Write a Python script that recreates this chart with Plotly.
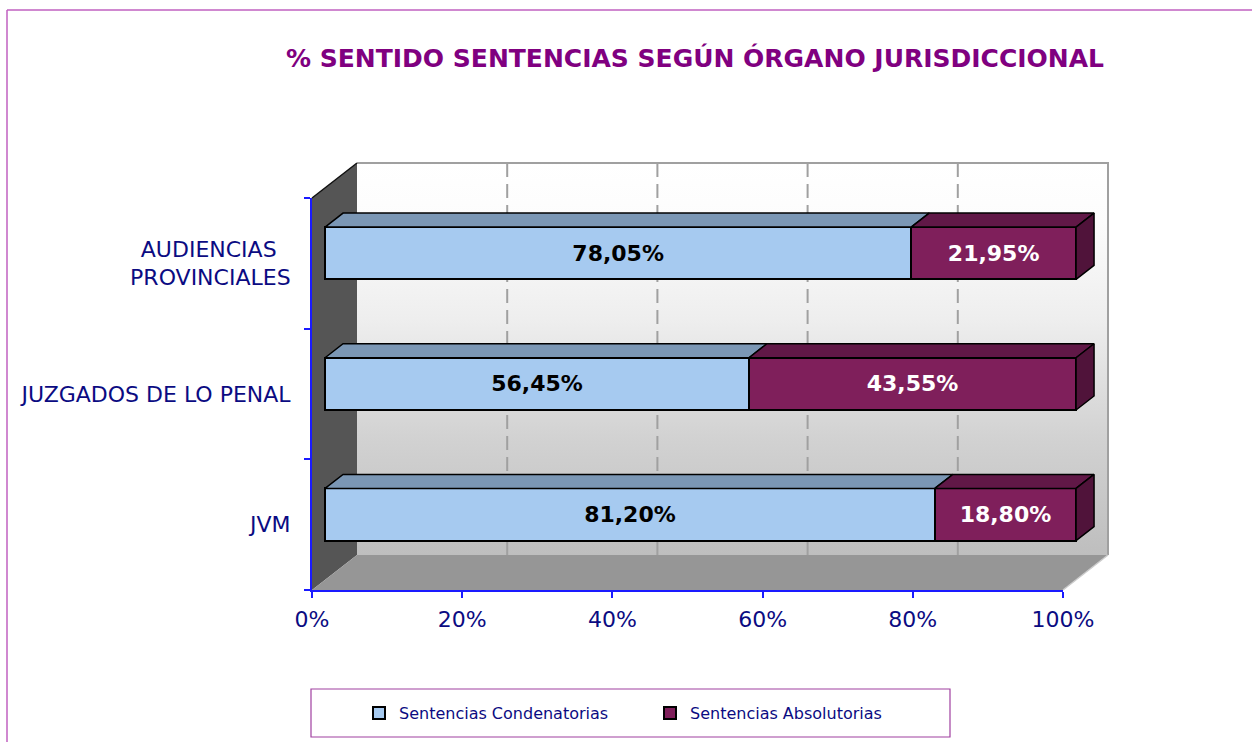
import plotly.graph_objects as go

# ---------------- data ----------------
categories = ["JVM", "JUZGADOS DE LO PENAL", "AUDIENCIAS\u00a0\u00a0<br>PROVINCIALES"]
condenatorias = [81.20, 56.45, 78.05]
absolutorias = [18.80, 43.55, 21.95]
series_names = ["Sentencias Condenatorias", "Sentencias Absolutorias"]
x_tick_values = [0, 20, 40, 60, 80, 100]
x_tick_labels = ["0%", "20%", "40%", "60%", "80%", "100%"]
title_text = "% SENTIDO SENTENCIAS SEGÚN ÓRGANO JURISDICCIONAL"

# ---------------- layout geometry (pixels) ----------------
W, H = 1252, 742
FX0, FX1 = 312, 1063          # front plane 0% .. 100%
FY_TOP, FY_BOT = 198, 590     # front plane top / bottom
DX, DY = 45, 35               # depth offset of back wall
D_FRONT, D_BACK = 0.29, 0.69  # bar depth (fraction)
PAD = 6
n = len(categories)
SX = (FX1 - FX0) / 100.0
SY = (FY_BOT - FY_TOP) / n

FONT = "DejaVu Sans, Verdana, sans-serif"
NAVY = "#0b0b82"
BLUE_FRONT, BLUE_TOP = "#a6caf0", "#7b97b5"
PUR_FRONT, PUR_TOP, PUR_SIDE = "#7f1f5b", "#611847", "#50133a"


def px(x):
    return x / W


def py(y):
    return 1 - y / H


fig = go.Figure()

# ---------------- subplot 1 : walls (front-plane units + depth) ----------------
def wp(p, c, d):
    return p + d * DX / SX, c + d * DY / SY


def poly(points):
    xs, ys = [], []
    for p, c, d in points:
        x, y = wp(p, c, d)
        xs.append(x)
        ys.append(y)
    return xs, ys


lo, hi = -0.5, n - 0.5
bx, by = poly([(0, lo, 1), (100, lo, 1), (100, hi, 1), (0, hi, 1), (0, lo, 1)])
fig.add_trace(go.Scatter(x=bx, y=by, fill="toself", mode="lines", line=dict(width=0),
                         fillgradient=dict(type="vertical",
                                           colorscale=[[0, "#bebebe"], [0.3, "#d2d2d2"],
                                                       [0.6, "#eeeeee"], [0.85, "#fcfcfc"],
                                                       [1, "#ffffff"]]),
                         hoverinfo="skip", showlegend=False))
lx, ly = poly([(0, lo, 0), (0, lo, 1), (0, hi, 1), (0, hi, 0), (0, lo, 0)])
fig.add_trace(go.Scatter(x=lx, y=ly, fill="toself", mode="lines", line=dict(width=0),
                         fillcolor="#555555", hoverinfo="skip", showlegend=False))
fx, fy = poly([(0, lo, 0), (100, lo, 0), (100, lo, 1), (0, lo, 1), (0, lo, 0)])
fig.add_trace(go.Scatter(x=fx, y=fy, fill="toself", mode="lines", line=dict(width=0),
                         fillcolor="#969696", hoverinfo="skip", showlegend=False))
gx, gy = [], []
for t in x_tick_values[1:-1]:
    xs, ys = poly([(t, lo, 1), (t, hi, 1)])
    gx += xs + [None]
    gy += ys + [None]
fig.add_trace(go.Scatter(x=gx, y=gy, mode="lines",
                         line=dict(color="#a0a0a0", width=2, dash="14px,7px"),
                         hoverinfo="skip", showlegend=False))
ox, oy = poly([(0, hi, 1), (100, hi, 1), (100, lo, 1)])
fig.add_trace(go.Scatter(x=ox, y=oy, mode="lines", line=dict(color="#a0a0a0", width=2),
                         hoverinfo="skip", showlegend=False))
ex, ey = poly([(100, lo, 0), (100, lo, 1)])
fig.add_trace(go.Scatter(x=ex, y=ey, mode="lines", line=dict(color="#cccccc", width=1.5),
                         hoverinfo="skip", showlegend=False))
tx, ty = poly([(0, hi, 0), (0, hi, 1)])
fig.add_trace(go.Scatter(x=tx, y=ty, mode="lines", line=dict(color="#111111", width=1.5),
                         hoverinfo="skip", showlegend=False))

# ---------------- subplot 2 : front plane axes ----------------
fig.add_trace(go.Scatter(x=[None], y=[None], xaxis="x2", yaxis="y2",
                         hoverinfo="skip", showlegend=False))

# ---------------- subplot 3 : bars ----------------
idx = list(range(n))


def fmt(v):
    return f"{v:.2f}".replace(".", ",") + "%"


BAR_W = 0.4
fig.add_trace(go.Bar(orientation="h", y=idx, x=condenatorias, width=BAR_W,
                     name=series_names[0], xaxis="x3", yaxis="y3",
                     marker=dict(color=BLUE_FRONT, line=dict(color="black", width=2)),
                     text=[fmt(v) for v in condenatorias], textposition="inside",
                     insidetextanchor="middle", constraintext="none",
                     textfont=dict(family=FONT, size=22, color="black", weight="bold"),
                     hoverinfo="skip"))
fig.add_trace(go.Bar(orientation="h", y=idx, x=absolutorias, width=BAR_W,
                     name=series_names[1], xaxis="x3", yaxis="y3",
                     marker=dict(color=PUR_FRONT, line=dict(color="black", width=2)),
                     text=[fmt(v) for v in absolutorias], textposition="inside",
                     insidetextanchor="middle", constraintext="none",
                     textfont=dict(family=FONT, size=22, color="white", weight="bold"),
                     hoverinfo="skip"))

ddx = (D_BACK - D_FRONT) * DX / SX
ddy = (D_BACK - D_FRONT) * DY / SY


def top_faces(starts, ends):
    xs, ys = [], []
    for i, (a, b) in enumerate(zip(starts, ends)):
        yt = idx[i] + BAR_W / 2
        xs += [a, b, b + ddx, a + ddx, a, None]
        ys += [yt, yt, yt + ddy, yt + ddy, yt, None]
    return xs, ys


ends1 = condenatorias
ends2 = [a + b for a, b in zip(condenatorias, absolutorias)]
t1x, t1y = top_faces([0] * n, ends1)
t2x, t2y = top_faces(ends1, ends2)
sx_, sy_ = [], []
for i, e in enumerate(ends2):
    yt, yb = idx[i] + BAR_W / 2, idx[i] - BAR_W / 2
    sx_ += [e, e, e + ddx, e + ddx, e, None]
    sy_ += [yt, yb, yb + ddy, yt + ddy, yt, None]

for xs, ys, col in [(t1x, t1y, BLUE_TOP), (t2x, t2y, PUR_TOP), (sx_, sy_, PUR_SIDE)]:
    fig.add_trace(go.Scatter(x=xs, y=ys, xaxis="x3", yaxis="y3", fill="toself",
                             fillcolor=col, mode="lines",
                             line=dict(color="black", width=1.5),
                             hoverinfo="skip", showlegend=False))

# ---------------- axes ----------------
hidden = dict(visible=False, showgrid=False, zeroline=False, fixedrange=True,
              automargin=False)

wall_x_right = FX1 + DX
fig.update_layout(
    template="none",
    xaxis=dict(hidden, domain=[px(FX0 - PAD), px(wall_x_right + PAD)],
               range=[-PAD / SX, (wall_x_right - FX0 + PAD) / SX], anchor="y"),
    yaxis=dict(hidden, domain=[py(FY_BOT + PAD), py(FY_TOP - DY - PAD)],
               range=[lo - PAD / SY, lo + (FY_BOT - FY_TOP + DY + PAD) / SY], anchor="x"),
    xaxis2=dict(domain=[px(FX0), px(FX1)], range=[0, 100], anchor="y2", automargin=False,
                showgrid=False, zeroline=False, showline=True, linecolor="#1a1aff",
                linewidth=2, ticks="outside", ticklen=6, tickwidth=1.5, tickcolor="#1a1aff",
                tickvals=x_tick_values, ticktext=x_tick_labels, ticklabelstandoff=3,
                tickfont=dict(family=FONT, size=22, color=NAVY), fixedrange=True),
    yaxis2=dict(domain=[py(FY_BOT), py(FY_TOP)], range=[lo, hi], anchor="x2", automargin=False,
                showgrid=False, zeroline=False, showline=True, linecolor="#1a1aff",
                linewidth=2, ticks="", tickvals=idx, ticktext=categories,
                ticklabelstandoff=15,
                minor=dict(tickvals=[i - 0.5 for i in range(n + 1)], ticks="outside",
                           ticklen=6, tickwidth=1.5, tickcolor="#1a1aff", showgrid=False),
                tickfont=dict(family=FONT, size=22, color=NAVY), fixedrange=True),
)

bx0 = FX0 + D_FRONT * DX
by_shift = D_FRONT * DY
bar_right_px = bx0 + 100 * SX + (D_BACK - D_FRONT) * DX + PAD
fig.update_layout(
    xaxis3=dict(hidden, domain=[px(bx0 - PAD), px(bar_right_px)],
                range=[-PAD / SX, (bar_right_px - bx0) / SX], anchor="y3"),
    yaxis3=dict(hidden, domain=[py(FY_BOT - by_shift), py(FY_TOP - by_shift)],
                range=[lo, hi], anchor="x3"),
    barmode="stack",
)

# ---------------- title, legend, frame ----------------
fig.update_layout(
    width=W, height=H,
    autosize=False,
    margin=dict(l=0, r=0, t=0, b=0, pad=0),
    paper_bgcolor="white", plot_bgcolor="rgba(0,0,0,0)",
    font=dict(family=FONT, color=NAVY),
    hovermode=False,
    title=dict(text=title_text, x=px(695), xanchor="center", y=py(58), yanchor="middle",
               automargin=False,
               font=dict(family=FONT, size=25, color="#800080", weight="bold")),
    legend=dict(orientation="h", x=px(359), xanchor="left", y=py(713), yanchor="middle",
                font=dict(family=FONT, size=16, color=NAVY), bgcolor="rgba(0,0,0,0)",
                borderwidth=0,
                traceorder="normal", entrywidth=246, entrywidthmode="pixels"),
    shapes=[
        dict(type="rect", xref="paper", yref="paper", x0=px(311), x1=px(950),
             y0=py(737), y1=py(689), line=dict(color="#a040a0", width=1.2)),
        dict(type="line", xref="paper", yref="paper", x0=px(7), x1=px(W + 5),
             y0=py(10), y1=py(10), line=dict(color="#c060c0", width=1.5)),
        dict(type="line", xref="paper", yref="paper", x0=px(7), x1=px(7),
             y0=py(10), y1=py(H + 5), line=dict(color="#c060c0", width=1.5)),
    ],
)

fig.write_html("out.html", config={"displayModeBar": False, "staticPlot": False},
               post_script="document.body.style.margin='0';document.body.style.overflow='hidden';")
